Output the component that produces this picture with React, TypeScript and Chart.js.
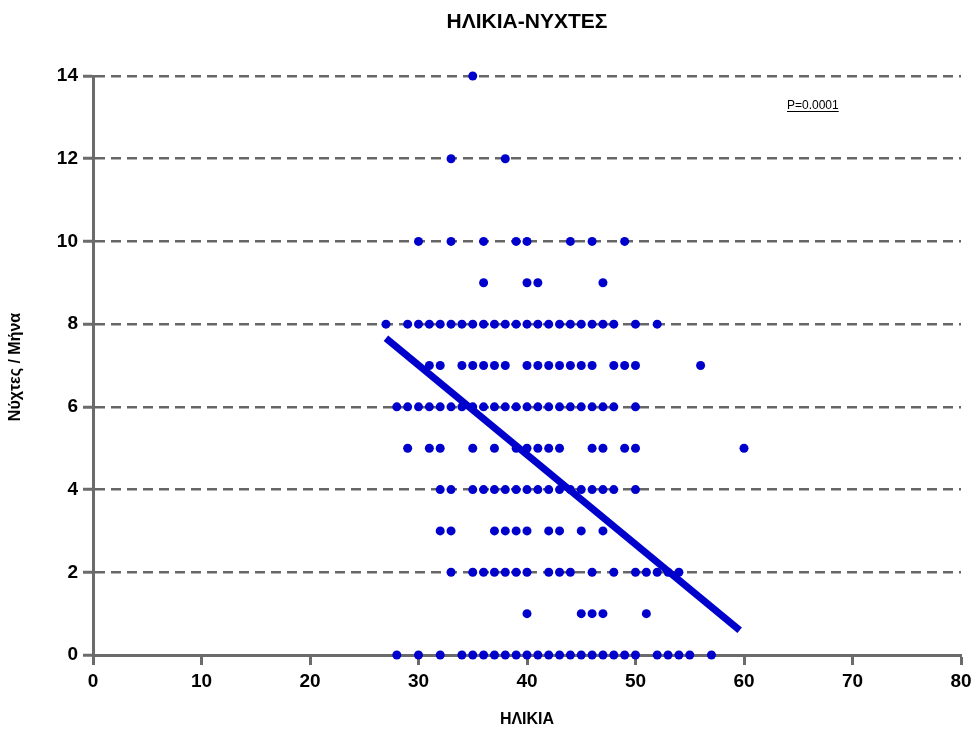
import React, { useEffect, useRef } from "react";
import { Chart, registerables } from "chart.js";

Chart.register(...registerables);

// Ages (x) observed at each number of nights per month (y)
const nightsLevels = [14, 12, 10, 9, 8, 7, 6, 5, 4, 3, 2, 1, 0];
const agesAt14 = [35];
const agesAt12 = [33, 38];
const agesAt10 = [30, 33, 36, 39, 40, 44, 46, 49];
const agesAt9 = [36, 40, 41, 47];
const agesAt8 = [27, 29, 30, 31, 32, 33, 34, 35, 36, 37, 38, 39, 40, 41, 42, 43, 44, 45, 46, 47, 48, 50, 52];
const agesAt7 = [31, 32, 34, 35, 36, 37, 38, 40, 41, 42, 43, 44, 45, 46, 48, 49, 50, 56];
const agesAt6 = [28, 29, 30, 31, 32, 33, 34, 35, 36, 37, 38, 39, 40, 41, 42, 43, 44, 45, 46, 47, 48, 50];
const agesAt5 = [29, 31, 32, 35, 37, 39, 40, 41, 42, 43, 46, 47, 49, 50, 60];
const agesAt4 = [32, 33, 35, 36, 37, 38, 39, 40, 41, 42, 43, 44, 45, 46, 47, 48, 50];
const agesAt3 = [32, 33, 37, 38, 39, 40, 42, 43, 45, 47];
const agesAt2 = [33, 35, 36, 37, 38, 39, 40, 42, 43, 44, 46, 48, 50, 51, 52, 53, 54];
const agesAt1 = [40, 45, 46, 47, 51];
const agesAt0 = [28, 30, 32, 34, 35, 36, 37, 38, 39, 40, 41, 42, 43, 44, 45, 46, 47, 48, 49, 50, 52, 53, 54, 55, 57];
const agesByLevel = [agesAt14, agesAt12, agesAt10, agesAt9, agesAt8, agesAt7, agesAt6, agesAt5, agesAt4, agesAt3, agesAt2, agesAt1, agesAt0];

// Regression line end points
const fitX = [27, 59.6];
const fitY = [7.66, 0.6];

const xTicks = [0, 10, 20, 30, 40, 50, 60, 70, 80];
const yTicks = [0, 2, 4, 6, 8, 10, 12, 14];

const chartTitle = "ΗΛΙΚΙΑ-ΝΥΧΤΕΣ";
const xTitle = "ΗΛΙΚΙΑ";
const yTitle = "Νύχτες / Μήνα";
const pLabel = "P=0.0001";

const FONT = "'Liberation Sans', Arial, Helvetica, sans-serif";
const BLUE = "#0000CC";
const AXIS = "#6b6b6b";

export default function App() {
  const ref = useRef<HTMLCanvasElement | null>(null);

  useEffect(() => {
    if (!ref.current) return;
    const points: { x: number; y: number }[] = [];
    nightsLevels.forEach((n, i) => {
      agesByLevel[i].forEach((a) => points.push({ x: a, y: n }));
    });
    const fit = fitX.map((x, i) => ({ x, y: fitY[i] }));

    const textPlugin = {
      id: "texts",
      afterDraw(chart: any) {
        const ctx = chart.ctx as CanvasRenderingContext2D;
        const ca = chart.chartArea;
        const cx = (ca.left + ca.right) / 2;
        ctx.save();
        ctx.fillStyle = "#000";
        ctx.textAlign = "center";
        ctx.textBaseline = "middle";
        ctx.font = `bold 21px ${FONT}`;
        ctx.fillText(chartTitle, cx, 22);
        ctx.font = `bold 16px ${FONT}`;
        ctx.fillText(xTitle, cx, 720);
        ctx.save();
        ctx.translate(16, 367);
        ctx.rotate(-Math.PI / 2);
        ctx.font = `bold 16px ${FONT}`;
        ctx.fillText(yTitle, 0, 0);
        ctx.restore();
        ctx.font = `12px ${FONT}`;
        ctx.textAlign = "left";
        ctx.textBaseline = "alphabetic";
        const px = 787;
        const py = 109;
        ctx.fillText(pLabel, px, py);
        const w = ctx.measureText(pLabel).width;
        ctx.strokeStyle = "#000";
        ctx.lineWidth = 1;
        ctx.beginPath();
        ctx.moveTo(px, py + 2.5);
        ctx.lineTo(px + w, py + 2.5);
        ctx.stroke();
        ctx.restore();
      },
    };

    const chart = new Chart(ref.current, {
      type: "scatter",
      data: {
        datasets: [
          {
            type: "line",
            data: fit,
            borderColor: BLUE,
            borderWidth: 7,
            pointRadius: 0,
            fill: false,
            clip: false,
            order: 0,
          } as any,
          {
            type: "scatter",
            data: points,
            backgroundColor: BLUE,
            borderWidth: 0,
            pointRadius: 4.5,
            clip: false,
            order: 1,
          },
        ],
      },
      options: {
        animation: false,
        responsive: false,
        layout: { padding: { top: 76, left: 0, right: 12, bottom: 0 } },
        plugins: {
          legend: { display: false },
          tooltip: { enabled: false },
          title: { display: false },
        },
        scales: {
          x: {
            type: "linear",
            min: 0,
            max: 80,
            afterBuildTicks: (s: any) => {
              s.ticks = xTicks.map((v) => ({ value: v }));
            },
            ticks: {
              color: "#000",
              font: { family: FONT, size: 19, weight: "bold" },
              padding: 5,
              maxRotation: 0,
            },
            grid: {
              drawOnChartArea: false,
              drawTicks: true,
              tickLength: 10,
              tickColor: AXIS,
              tickWidth: 3,
              color: AXIS,
            },
            border: { display: true, color: AXIS, width: 3 },
            afterFit: (s: any) => {
              s.height = 75;
              s.paddingRight = 0;
              s.paddingLeft = 0;
            },
          },
          y: {
            type: "linear",
            min: 0,
            max: 14,
            afterBuildTicks: (s: any) => {
              s.ticks = yTicks.map((v) => ({ value: v }));
            },
            ticks: {
              color: "#000",
              font: { family: FONT, size: 19, weight: "bold" },
              padding: 5,
            },
            grid: {
              color: "#666666",
              lineWidth: 2.5,
              drawTicks: true,
              tickLength: 10,
              tickColor: AXIS,
              tickWidth: 3,
              tickBorderDash: [],
            },
            border: { display: true, color: AXIS, width: 3, dash: [10, 6] },
            afterFit: (s: any) => {
              s.width = 93;
              s.paddingTop = 0;
              s.paddingBottom = 0;
            },
          },
        },
      },
      plugins: [textPlugin],
    } as any);

    return () => chart.destroy();
  }, []);

  return (
    <div style={{ position: "absolute", left: 0, top: 0, width: 973, height: 730, background: "#fff" }}>
      <canvas ref={ref} width={973} height={730} style={{ display: "block" }} />
    </div>
  );
}
